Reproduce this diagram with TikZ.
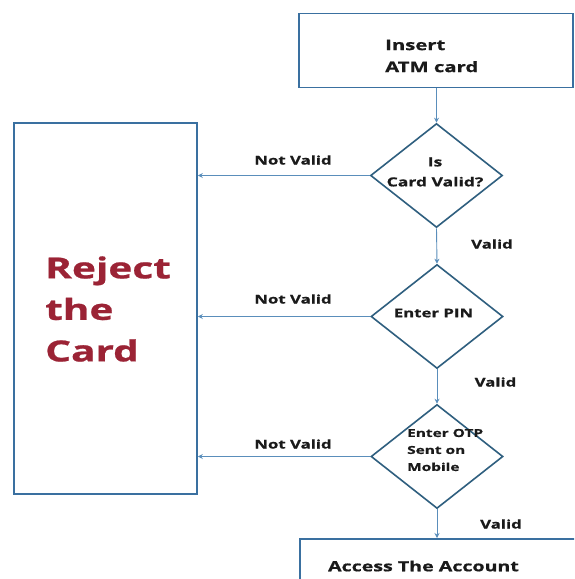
\documentclass[tikz,border=0pt]{standalone}
\usepackage{fontspec}
\setmainfont{Open Sans}[FakeStretch=1.4,BoldFeatures={FakeBold=0.8}]
\usetikzlibrary{shapes.geometric,arrows.meta}
\definecolor{boxblue}{HTML}{3A70A0}
\definecolor{arrowblue}{HTML}{5A8EBB}
\definecolor{dialine}{HTML}{2F5F7F}
\definecolor{rejred}{HTML}{9B2335}
\definecolor{txtgray}{HTML}{1A1A1A}
\begin{document}
\begin{tikzpicture}[x=1pt,y=-1pt,
  procbox/.style={draw=boxblue,line width=1.8pt,inner sep=0pt,fill=white},
  decision/.style={diamond,draw=dialine,line width=1.6pt,minimum width=132pt,minimum height=104pt,inner sep=0pt},
  dtext/.style={font=\bfseries\fontsize{12.5}{20}\selectfont,text=txtgray,inner sep=0pt},
  flow/.style={draw=arrowblue,line width=0.9pt,-{Stealth[length=5pt,width=5pt]}},
  lab/.style={font=\bfseries\fontsize{12}{14}\selectfont,text=txtgray,inner sep=0pt}]
\useasboundingbox (0,0) rectangle (574,579);
\fill[white] (0,0) rectangle (574,579);
\clip (0,0) rectangle (574,579);
% boxes
\node[procbox,anchor=north west,minimum width=274pt,minimum height=74pt] (insert) at (298,12.5) {};
\node[dtext,anchor=west,align=left,font=\bfseries\fontsize{14.5}{22}\selectfont] (inserttxt) at (385,56) {Insert\\ATM card};
\node[procbox,anchor=north west,minimum width=183pt,minimum height=371pt] (reject) at (13,122) {};
\node[anchor=west,align=left,inner sep=0pt,font=\bfseries\fontsize{29}{41.5}\selectfont,text=rejred] (rejecttxt) at (45,309) {Reject\\the\\Card};
\node[procbox,anchor=north west,minimum width=300pt,minimum height=60pt] (access) at (299,538) {};
\node[dtext,font=\bfseries\fontsize{14}{16}\selectfont] (accesstxt) at (423.5,566) {Access The Account};
% decisions
\node[decision] (d1) at (436.5,175.5) {};
\node[dtext,align=center] (d1t) at (435,172) {Is\\Card Valid?};
\node[decision] (d2) at (437,316.5) {};
\node[dtext,font=\bfseries\fontsize{12}{14}\selectfont] (d2t) at (433.5,313) {Enter PIN};
\node[decision] (d3) at (437,456.5) {};
\node[dtext,anchor=west,align=left,font=\bfseries\fontsize{11}{17}\selectfont] (d3t) at (407,450) {Enter OTP\\Sent on\\Mobile};
% vertical flow
\draw[flow] (insert.south -| d1.north) -- (d1.north);
\draw[flow] (d1.south) -- (d2.north);
\draw[flow] (d2.south) -- (d3.north);
\draw[flow] (d3.south) -- (d3.south |- access.north);
% not valid
\draw[flow] (d1.west) -- (d1.west -| reject.east);
\draw[flow] (d2.west) -- (d2.west -| reject.east);
\draw[flow] (d3.west) -- (d3.west -| reject.east);
% labels
\node[lab] (nv1) at (293,160) {Not Valid};
\node[lab] (nv2) at (293,299) {Not Valid};
\node[lab] (nv3) at (293,444) {Not Valid};
\node[lab] (v1) at (492,244) {Valid};
\node[lab] (v2) at (495.5,382) {Valid};
\node[lab] (v3) at (501,524) {Valid};
\end{tikzpicture}
\end{document}
